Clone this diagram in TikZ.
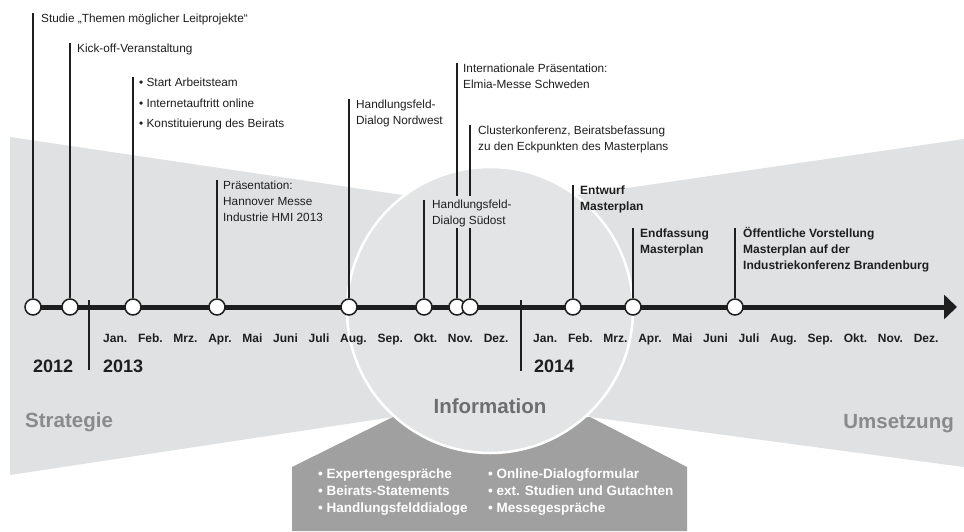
\documentclass[tikz,border=0pt]{standalone}
\usepackage{fontspec}
\setmainfont{Liberation Sans}
\usetikzlibrary{arrows.meta}
\definecolor{bgA}{HTML}{E0E1E2}
\definecolor{bgC}{HTML}{E3E4E5}
\definecolor{boxD}{HTML}{A0A0A0}
\definecolor{ink}{HTML}{1E1E1E}
\definecolor{phase}{HTML}{8A8A8A}
\definecolor{info}{HTML}{6E6E6E}
\newcommand{\lblfont}{\fontsize{11.8}{16}\selectfont}
\newcommand{\boldlbl}{\fontsize{12}{16}\selectfont\bfseries}
\newcommand{\mg}{\hspace{10.8pt}}
\begin{document}
\begin{tikzpicture}[x=1pt,y=-1pt,
  lab/.style={anchor=north west, inner sep=0pt, align=left, text=ink, font=\lblfont},
  blab/.style={lab, font=\boldlbl},
  stemline/.style={draw=ink, line width=1.7pt},
  ms/.style={circle, draw=ink, fill=white, line width=1.5pt, minimum size=16pt, inner sep=0pt},
  monthrow/.style={anchor=base west, inner sep=0pt, text=ink, font=\fontsize{12}{14}\selectfont\bfseries},
  yearlbl/.style={anchor=west, inner sep=0pt, text=ink, font=\fontsize{18}{20}\selectfont\bfseries},
  phaselbl/.style={inner sep=0pt, text=phase, font=\fontsize{20.5}{24}\selectfont\bfseries},
  boxt/.style={anchor=north west, inner sep=0pt, align=left, text=white, font=\fontsize{13.5}{17}\selectfont\bfseries},
  sep/.style={draw=ink, line width=1.5pt}
]
\useasboundingbox (0,0) rectangle (964,531);
\fill[white] (0,0) rectangle (964,531);
% background shapes
\fill[bgA] (10,137) -- (490,208) -- (490,310) -- (393,417) -- (10,475) -- cycle;
\fill[bgA] (964,139) -- (490,208) -- (490,310) -- (590,417) -- (964,467) -- cycle;
\fill[boxD] (292,531) -- (292,467) -- (393,417) -- (590,417) -- (687,467) -- (687,531) -- cycle;
\draw[white, line width=2.5pt, fill=bgC] (490,310) circle[radius=143pt];

% year separators
\draw[sep] (89,300) -- (89,370);
\draw[sep] (521,300) -- (521,371);

% axis
\coordinate (a0) at (33,307);
\coordinate (a1) at (957,307);
\draw[draw=ink, line width=5pt, -{Triangle[length=13pt,width=24pt]}] (a0) -- (a1);

% markers
\node[ms] (m1) at (33,307) {};
\node[ms] (m2) at (70,307) {};
\node[ms] (m3) at (133,307) {};
\node[ms] (m4) at (217,307) {};
\node[ms] (m5) at (349,307) {};
\node[ms] (m6) at (424,307) {};
\node[ms] (m7) at (457,307) {};
\node[ms] (m8) at (470,307) {};
\node[ms] (m9) at (573,307) {};
\node[ms] (m10) at (633,307) {};
\node[ms] (m11) at (735,307) {};

% stems
\coordinate (s1) at (33,13);
\coordinate (s2) at (70,43);
\coordinate (s3) at (133,77);
\coordinate (s4) at (217,180);
\coordinate (s5) at (349,99);
\coordinate (s6) at (424,200);
\coordinate (s7) at (457,63);
\coordinate (s8) at (470,125);
\coordinate (s9) at (573,185);
\coordinate (s10) at (633,228);
\coordinate (s11) at (735,228);
\coordinate (b7a) at (457,196);
\coordinate (b7b) at (457,228);
\coordinate (b8a) at (470,196);
\coordinate (b8b) at (470,228);
\draw[stemline] (s1) -- (m1);
\draw[stemline] (s2) -- (m2);
\draw[stemline] (s3) -- (m3);
\draw[stemline] (s4) -- (m4);
\draw[stemline] (s5) -- (m5);
\draw[stemline] (s6) -- (m6);
\draw[stemline] (s7) -- (b7a);
\draw[stemline] (b7b) -- (m7);
\draw[stemline] (s8) -- (b8a);
\draw[stemline] (b8b) -- (m8);
\draw[stemline] (s9) -- (m9);
\draw[stemline] (s10) -- (m10);
\draw[stemline] (s11) -- (m11);

% labels
\node[lab] (t1) at (41,14) {Studie „Themen möglicher Leitprojekte“};
\node[lab] (t2) at (77,44) {Kick-off-Veranstaltung};
\node[lab, font=\fontsize{11.8}{20.3}\selectfont] (t3) at (139,78) {• Start Arbeitsteam\\• Internetauftritt online\\• Konstituierung des Beirats};
\node[lab] (t4) at (223,181) {Präsentation:\\Hannover Messe\\Industrie HMI 2013};
\node[lab] (t5) at (356,100) {Handlungsfeld-\\Dialog Nordwest};
\node[lab] (t6) at (432,200) {Handlungsfeld-\\Dialog Südost};
\node[lab] (t7) at (463,64) {Internationale Präsentation:\\Elmia-Messe Schweden};
\node[lab] (t8) at (478,126) {Clusterkonferenz, Beiratsbefassung\\zu den Eckpunkten des Masterplans};
\node[blab] (t9) at (580,186) {Entwurf\\Masterplan};
\node[blab] (t10) at (640,229) {Endfassung\\Masterplan};
\node[blab] (t11) at (743,229) {\smash{Ö}ffentliche Vorstellung\\Masterplan auf der\\Industriekonferenz Brandenburg};

% months
\node[monthrow] (mon13) at (103,342) {Jan.\mg Feb.\mg Mrz.\mg Apr.\mg Mai\mg Juni\mg Juli\mg Aug.\mg Sep.\mg Okt.\mg Nov.\mg Dez.};
\node[monthrow] (mon14) at (533,342) {Jan.\mg Feb.\mg Mrz.\mg Apr.\mg Mai\mg Juni\mg Juli\mg Aug.\mg Sep.\mg Okt.\mg Nov.\mg Dez.};

% years
\node[yearlbl] (y12) at (33,366) {2012};
\node[yearlbl] (y13) at (103,366) {2013};
\node[yearlbl] (y14) at (534,366) {2014};

% phases
\node[phaselbl, anchor=base west] (ph1) at (25,427) {Strategie};
\node[phaselbl, anchor=base east] (ph3) at (954,428) {Umsetzung};
\node[phaselbl, text=info, anchor=center] (ph2) at (490,406) {Information};

% info box text
\node[boxt] (c1) at (318,469) {• Expertengespräche\\• Beirats-Statements\\• Handlungsfelddialoge};
\node[boxt] (c2) at (488,469) {• Online-Dialogformular\\• ext. Studien und Gutachten\\• Messegespräche};
\end{tikzpicture}
\end{document}
